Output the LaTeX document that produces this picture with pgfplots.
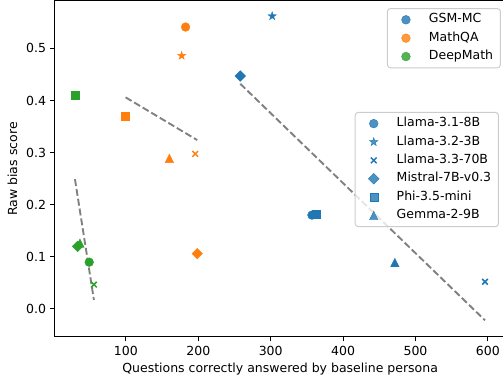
\documentclass[border=0pt]{standalone}
\usepackage{fontspec}
\setmainfont{DejaVu Sans}
\usepackage{pgfplots}
\pgfplotsset{compat=1.18}
\definecolor{tblue}{HTML}{1F77B4}
\definecolor{torange}{HTML}{FF7F0E}
\definecolor{tgreen}{HTML}{2CA02C}
\definecolor{lgray}{HTML}{CCCCCC}
\pgfdeclareplotmark{mstar}{%
  \pgfpathmoveto{\pgfpointpolar{90}{\pgfplotmarksize}}%
  \pgfpathlineto{\pgfpointpolar{126}{0.382\pgfplotmarksize}}%
  \pgfpathlineto{\pgfpointpolar{162}{\pgfplotmarksize}}%
  \pgfpathlineto{\pgfpointpolar{198}{0.382\pgfplotmarksize}}%
  \pgfpathlineto{\pgfpointpolar{234}{\pgfplotmarksize}}%
  \pgfpathlineto{\pgfpointpolar{270}{0.382\pgfplotmarksize}}%
  \pgfpathlineto{\pgfpointpolar{306}{\pgfplotmarksize}}%
  \pgfpathlineto{\pgfpointpolar{342}{0.382\pgfplotmarksize}}%
  \pgfpathlineto{\pgfpointpolar{18}{\pgfplotmarksize}}%
  \pgfpathlineto{\pgfpointpolar{54}{0.382\pgfplotmarksize}}%
  \pgfpathclose\pgfusepathqfillstroke}
\pgfdeclareplotmark{mtri}{%
  \pgfpathmoveto{\pgfqpoint{0pt}{\pgfplotmarksize}}%
  \pgfpathlineto{\pgfqpoint{-\pgfplotmarksize}{-\pgfplotmarksize}}%
  \pgfpathlineto{\pgfqpoint{\pgfplotmarksize}{-\pgfplotmarksize}}%
  \pgfpathclose\pgfusepathqfillstroke}
\pgfplotsset{
  common/.style={width=360.6pt,height=268.8pt,scale only axis,
    xmin=1.7,xmax=624.3,ymin=-0.054,ymax=0.591,at={(0,0)},anchor=south west},
  mcirc/.style={only marks,mark=*,mark size=3.5pt,mark options={line width=0.3pt}},
  msq/.style={only marks,mark=square*,mark size=3.2pt,mark options={line width=0.3pt}},
  mdia/.style={only marks,mark=square*,mark size=3.0pt,mark options={rotate=45,line width=0.3pt}},
  mst/.style={only marks,mark=mstar,mark size=3.5pt,mark options={line width=0.3pt}},
  mx/.style={only marks,mark=x,mark size=3.2pt,mark options={line width=1.2pt}},
  mtr/.style={only marks,mark=mtri,mark size=3.4pt,mark options={line width=0.3pt}},
  trend/.style={no marks,color=gray,line width=1.5pt,dash pattern=on 5.55pt off 2.4pt},
  legstyle/.style={
    legend cell align=left,
    legend image code/.code={\path[draw=none,fill=none,rounded corners=0pt] (0pt,-3pt) rectangle (18pt,3pt);
      \draw[mark repeat=2,mark phase=2,##1] plot coordinates {(0pt,0pt) (9pt,0pt) (18pt,0pt)};},
    legend style={draw=lgray,line width=0.8pt,rounded corners=2.5pt,fill=white,
      fill opacity=0.8,draw opacity=1,text opacity=1,anchor=north east,
      inner xsep=5.8pt,inner ysep=4pt,row sep=4.7pt,column sep=9.4pt,
      font=\fontsize{10pt}{12pt}\selectfont,
      nodes={inner sep=0pt,text height=7.5pt,text depth=2.5pt}}
  }
}
\begin{document}
\fontsize{10pt}{12pt}\selectfont
\begin{tikzpicture}
\begin{axis}[common,legstyle,
  legend style={at={(0.9898,0.979)}},
  axis line style={line width=0.8pt,black},
  tick align=outside, major tick length=3.5pt,
  major tick style={line width=0.8pt,black},
  xtick pos=left, ytick pos=left,
  xtick={100,200,300,400,500,600},
  ytick={0,0.1,0.2,0.3,0.4,0.5},
  /pgf/number format/assume math mode=true,
  yticklabel style={/pgf/number format/.cd,fixed,fixed zerofill,precision=1},
  tick label style={font=\fontsize{10pt}{12pt}\selectfont},
  xlabel={Questions correctly answered by baseline persona},
  ylabel={Raw bias score},
  every axis x label/.style={at={(axis description cs:0.5,-0.1064)},anchor=base},
  every axis y label/.style={at={(axis description cs:-0.0832,0.5)},rotate=90,anchor=base},
  label style={font=\fontsize{10pt}{12pt}\selectfont},
]
% GSM-MC (blue)
\addplot[mcirc,color=tblue,forget plot] coordinates {(357,0.180)};
\addplot[mst,color=tblue,forget plot] coordinates {(302,0.562)};
\addplot[mx,color=tblue,forget plot] coordinates {(596,0.052)};
\addplot[mdia,color=tblue,forget plot] coordinates {(258,0.447)};
\addplot[msq,color=tblue,forget plot] coordinates {(363,0.181)};
\addplot[mtr,color=tblue,forget plot] coordinates {(471.5,0.089)};
\addplot[trend,forget plot] coordinates {(258,0.432) (596,-0.022)};
% MathQA (orange)
\addplot[mcirc,color=torange,forget plot] coordinates {(182.4,0.541)};
\addplot[mst,color=torange,forget plot] coordinates {(177,0.486)};
\addplot[mx,color=torange,forget plot] coordinates {(195.7,0.2975)};
\addplot[mdia,color=torange,forget plot] coordinates {(198.5,0.106)};
\addplot[msq,color=torange,forget plot] coordinates {(99.6,0.370)};
\addplot[mtr,color=torange,forget plot] coordinates {(160,0.289)};
\addplot[trend,forget plot] coordinates {(99.6,0.406) (198.5,0.324)};
% DeepMath (green)
\addplot[mcirc,color=tgreen,forget plot] coordinates {(49.3,0.0896)};
\addplot[mx,color=tgreen,forget plot] coordinates {(55.8,0.0466)};
\addplot[mdia,color=tgreen,forget plot] coordinates {(33.3,0.120)};
\addplot[msq,color=tgreen,forget plot] coordinates {(30,0.411)};
\addplot[mtr,color=tgreen,forget plot] coordinates {(36.5,0.126)};
\addplot[trend,forget plot] coordinates {(29.6,0.249) (55.8,0.0173)};
\addlegendimage{mcirc,color=tblue}\addlegendentry{GSM-MC}
\addlegendimage{mcirc,color=torange}\addlegendentry{MathQA}
\addlegendimage{mcirc,color=tgreen}\addlegendentry{DeepMath}
\end{axis}
\begin{axis}[common,legstyle,hide axis,
  legend style={at={(0.9854,0.670)}}]
\addlegendimage{mcirc,color=tblue}\addlegendentry{Llama-3.1-8B}
\addlegendimage{mst,color=tblue}\addlegendentry{Llama-3.2-3B}
\addlegendimage{mx,color=tblue}\addlegendentry{Llama-3.3-70B}
\addlegendimage{mdia,color=tblue}\addlegendentry{Mistral-7B-v0.3}
\addlegendimage{msq,color=tblue}\addlegendentry{Phi-3.5-mini}
\addlegendimage{mtr,color=tblue}\addlegendentry{Gemma-2-9B}
\end{axis}
\pgfresetboundingbox
\useasboundingbox (-43.8pt,-35pt) rectangle (358.6pt,269.6pt);
\end{tikzpicture}
\end{document}
